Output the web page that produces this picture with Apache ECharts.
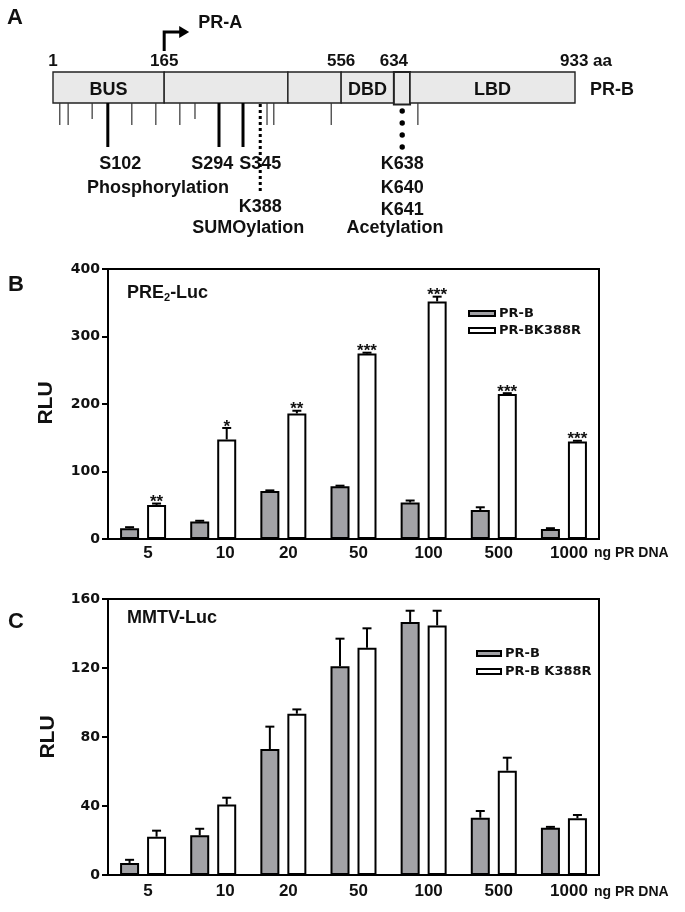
<!DOCTYPE html>
<html><head><meta charset="utf-8">
<script src="https://cdn.jsdelivr.net/npm/echarts@6/dist/echarts.min.js"></script>
<style>html,body{margin:0;padding:0;background:#fff}#chart{width:685px;height:912px}</style>
</head><body><div id="chart"></div>
<script>
// ---------- Panel A: schematic of PR-B (positions in schematic units 0-100 along the drawn bar) ----------
const domainEdges = [0, 21.3, 45.0, 55.2, 65.3, 68.4, 100];
const domainNames = ['BUS', '', '', 'DBD', '', 'LBD'];
const residueLabels = ['1', '165', '556', '634', '933'];
const residuePos = [0, 21.3, 55.2, 65.3, 100];
const minorSitePos = [1.3, 2.9, 7.5, 15.1, 19.7, 24.3, 27.2, 41.0, 42.3, 53.3, 69.9];
const minorSiteShort = [false, false, true, false, false, false, true, false, false, false, false];
const phosphoSites = ['S102', 'S294', 'S345'];
const phosphoPos = [10.5, 31.8, 36.4];
const phosphoLabelPos = [12.9, 30.5, 39.7];
const sumoSites = ['K388'];
const sumoPos = [39.7];
const acetylSites = ['K638', 'K640', 'K641'];
const acetylPos = [66.9];
const prAStart = [21.3];

// ---------- Panels B and C ----------
const categories = ['5', '10', '20', '50', '100', '500', '1000'];
const preB = [16, 26, 71, 78, 54, 43, 15];
const preBErr = [1.5, 1, 1, 1, 3, 4, 1];
const preK = [50.5, 147.5, 186, 275, 352, 215, 144.5];
const preKErr = [2, 17, 4, 1, 7, 1, 1];
const preStars = ['**', '*', '**', '***', '***', '***', '***'];
const preTicks = [0, 100, 200, 300, 400];

const mmB = [7, 23, 73, 121, 146.7, 33.2, 27.4];
const mmBErr = [1.8, 3.8, 13, 16, 6.5, 3.9, 0.5];
const mmK = [22.2, 40.8, 93.5, 131.8, 144.7, 60.5, 32.9];
const mmKErr = [3.5, 4, 2.5, 11.2, 8.5, 7.5, 1.9];
const mmTicks = [0, 40, 80, 120, 160];

const FONT = '"Liberation Sans", Arial, sans-serif';
const WIDE = '"DejaVu Sans", Verdana, sans-serif';
const INK = '#111';
const GRAY = '#a2a2a6';
const BAR_W = 19;
const GAP_PX = 8;
const OFF = (BAR_W + GAP_PX) / 2;

const chart = echarts.init(document.getElementById('chart'), null, {renderer: 'canvas'});

function txt(x, y, text, size, align, extra) {
  return Object.assign({
    type: 'text', x: x, y: y,
    style: {text: text, fontFamily: FONT, fontWeight: 'bold', fontSize: size, fill: INK,
      align: align || 'center', verticalAlign: 'middle'}
  }, extra || {});
}

function renderDiagram(params, api) {
  const X = v => api.coord([v, 0])[0];
  const Y = v => api.coord([0, v])[1];
  const ch = [];
  const top = Y(72), bot = Y(103);
  for (let i = 0; i < domainEdges.length - 1; i++) {
    const x0 = X(domainEdges[i]), x1 = X(domainEdges[i + 1]);
    const small = domainNames[i] === '' && i === 4;
    ch.push({type: 'rect', shape: {x: x0, y: top, width: x1 - x0, height: bot - top + (small ? 1.5 : 0)},
      style: {fill: '#e9e9e9', stroke: '#222', lineWidth: small ? 2 : 1.4}});
    if (domainNames[i]) ch.push(txt((x0 + x1) / 2, Y(90), domainNames[i], 18));
  }
  ch.push(txt(X(100) + 15, Y(90), 'PR-B', 18, 'left'));
  residueLabels.forEach((t, i) => {
    if (i === residueLabels.length - 1) {
      ch.push(txt(X(residuePos[i]) - 15, Y(61), t + ' aa', 17, 'left'));
    } else ch.push(txt(X(residuePos[i]), Y(61), t, 17));
  });
  // PR-A start arrow
  const ax = X(prAStart[0]);
  ch.push({type: 'polyline', shape: {points: [[ax, Y(51)], [ax, Y(32)], [ax + 16, Y(32)]]},
    style: {stroke: '#000', lineWidth: 3, fill: null}});
  ch.push({type: 'polygon', shape: {points: [[ax + 15, Y(26)], [ax + 25, Y(32)], [ax + 15, Y(38)]]},
    style: {fill: '#000'}});
  ch.push(txt(ax + 34, Y(23), 'PR-A', 18, 'left'));
  // minor sites
  minorSitePos.forEach((p, i) => {
    ch.push({type: 'line', shape: {x1: X(p), y1: bot, x2: X(p), y2: Y(minorSiteShort[i] ? 119 : 125)},
      style: {stroke: '#333', lineWidth: 1.2}});
  });
  // phosphorylation
  phosphoPos.forEach((p, i) => {
    ch.push({type: 'line', shape: {x1: X(p), y1: bot, x2: X(p), y2: Y(147)}, style: {stroke: '#000', lineWidth: 3}});
    ch.push(txt(X(phosphoLabelPos[i]), Y(164), phosphoSites[i], 18));
  });
  ch.push(txt(X(20.1), Y(188), 'Phosphorylation', 18));
  // SUMOylation
  sumoPos.forEach((p, i) => {
    ch.push({type: 'line', shape: {x1: X(p), y1: bot + 1, x2: X(p), y2: Y(194)},
      style: {stroke: '#000', lineWidth: 3, lineDash: [3, 3]}});
    ch.push(txt(X(p), Y(207), sumoSites[i], 18));
  });
  ch.push(txt(X(37.4), Y(228), 'SUMOylation', 18));
  // acetylation
  [111, 123, 135, 147].forEach(yy => {
    ch.push({type: 'circle', shape: {cx: X(acetylPos[0]), cy: Y(yy), r: 2.7}, style: {fill: '#000'}});
  });
  acetylSites.forEach((s, i) => ch.push(txt(X(acetylPos[0]), Y([164, 188, 210][i]), s, 18)));
  ch.push(txt(X(65.5), Y(228), 'Acetylation', 18));
  return {type: 'group', children: ch};
}

function errorRenderer(offset, stars) {
  return function (params, api) {
    const i = api.value(0), v = api.value(1), e = api.value(2);
    const p0 = api.coord([i, v]), p1 = api.coord([i, v + e]);
    const x = p0[0] + offset;
    const ch = [
      {type: 'line', shape: {x1: x, y1: p0[1], x2: x, y2: p1[1]}, style: {stroke: '#000', lineWidth: 2}},
      {type: 'line', shape: {x1: x - 4.5, y1: p1[1], x2: x + 4.5, y2: p1[1]}, style: {stroke: '#000', lineWidth: 2}}
    ];
    if (stars && stars[params.dataIndex]) {
      ch.push({type: 'text', x: x, y: p1[1] - 1,
        style: {text: stars[params.dataIndex], fontFamily: FONT, fontWeight: 'bold', fontSize: 17,
          fill: INK, align: 'center', verticalAlign: 'middle'}});
    }
    return {type: 'group', children: ch};
  };
}

function catAxis(gi, margin) {
  return {
    type: 'category', gridIndex: gi, data: categories,
    axisLine: {lineStyle: {color: '#000', width: 2}},
    axisTick: {show: false},
    axisLabel: {
      interval: 0, hideOverlap: false,
      margin: margin, color: INK, fontFamily: FONT, fontWeight: 'bold', fontSize: 17,
      formatter: (v, i) => (i === 1 ? '{b|' + v + '}' : '{a|' + v + '}'),
      rich: {
        a: {fontFamily: FONT, fontWeight: 'bold', fontSize: 17, color: INK, padding: [0, 0, 0, 10]},
        b: {fontFamily: FONT, fontWeight: 'bold', fontSize: 17, color: INK, padding: [0, 0, 0, 24]}
      }
    },
    splitLine: {show: false}
  };
}
function valAxis(gi, ticks) {
  return {
    type: 'value', gridIndex: gi, min: ticks[0], max: ticks[ticks.length - 1],
    interval: ticks[1] - ticks[0],
    axisLine: {show: true, lineStyle: {color: '#000', width: 2}},
    axisTick: {show: true, length: 6, lineStyle: {color: '#000', width: 2}},
    axisLabel: {margin: 8, color: INK, fontFamily: WIDE, fontWeight: 'bold', fontSize: 14},
    splitLine: {show: false}
  };
}
function barSeries(name, gi, vals, color) {
  return {
    name: name, type: 'bar', xAxisIndex: gi, yAxisIndex: gi, data: vals,
    barWidth: BAR_W, barGap: (GAP_PX / BAR_W * 100) + '%',
    itemStyle: {color: color, borderColor: '#000', borderWidth: 2},
    emphasis: {disabled: true}, z: 2
  };
}
function errSeries(gi, vals, errs, offset, stars) {
  return {
    type: 'custom', xAxisIndex: gi, yAxisIndex: gi,
    data: vals.map((v, i) => [i, v, errs[i]]),
    encode: {x: 0, y: 1},
    renderItem: errorRenderer(offset, stars), z: 3, silent: true
  };
}
function legendCfg(left, top, gap, iw, names) {
  return {
    left: left, top: top, orient: 'vertical', itemWidth: iw, itemHeight: 5, itemGap: gap,
    icon: 'rect', selectedMode: false, data: names,
    textStyle: {fontFamily: WIDE, fontWeight: 'bold', fontSize: 13, color: INK, padding: [0, 0, 0, -1]}
  };
}

const option = {
  animation: false,
  backgroundColor: '#fff',
  grid: [
    {left: 53, width: 522, top: 0, height: 250},
    {left: 108, top: 269, width: 491, height: 270, show: true, borderColor: '#000', borderWidth: 2},
    {left: 108, top: 599, width: 491, height: 276, show: true, borderColor: '#000', borderWidth: 2}
  ],
  xAxis: [
    {type: 'value', gridIndex: 0, min: 0, max: 100, show: false},
    catAxis(1, 6),
    catAxis(2, 8)
  ],
  yAxis: [
    {type: 'value', gridIndex: 0, min: 0, max: 250, inverse: true, show: false},
    valAxis(1, preTicks),
    valAxis(2, mmTicks)
  ],
  legend: [
    legendCfg(463, 302, 4, 26, ['PR-B', 'PR-BK388R']),
    legendCfg(471, 642, 5, 24, ['PR-B', 'PR-B K388R'])
  ],
  series: [
    {type: 'custom', xAxisIndex: 0, yAxisIndex: 0, data: [[0, 0]], renderItem: renderDiagram, silent: true, clip: false},
    barSeries('PR-B', 1, preB, GRAY),
    barSeries('PR-BK388R', 1, preK, '#fff'),
    errSeries(1, preB, preBErr, -OFF, null),
    errSeries(1, preK, preKErr, OFF, preStars),
    barSeries('PR-B', 2, mmB, GRAY),
    barSeries('PR-B K388R', 2, mmK, '#fff'),
    errSeries(2, mmB, mmBErr, -OFF, null),
    errSeries(2, mmK, mmKErr, OFF, null)
  ],
  graphic: [
    txt(15, 18, 'A', 22),
    txt(16, 285, 'B', 22),
    txt(16, 622, 'C', 22),
    txt(46, 403, 'RLU', 21, 'center', {rotation: Math.PI / 2}),
    txt(48, 737, 'RLU', 21, 'center', {rotation: Math.PI / 2}),
    {type: 'text', x: 127, y: 293, style: {
      text: '{a|PRE}{s|2}{a|-Luc}', align: 'left', verticalAlign: 'middle',
      rich: {a: {fontFamily: FONT, fontWeight: 'bold', fontSize: 18, fill: INK},
             s: {fontFamily: FONT, fontWeight: 'bold', fontSize: 11, fill: INK, padding: [9, 0, 0, 0]}}}},
    txt(127, 618, 'MMTV-Luc', 18, 'left'),
    txt(594, 553, 'ng PR DNA', 14, 'left'),
    txt(594, 892, 'ng PR DNA', 14, 'left')
  ]
};
chart.setOption(option);
</script></body></html>
